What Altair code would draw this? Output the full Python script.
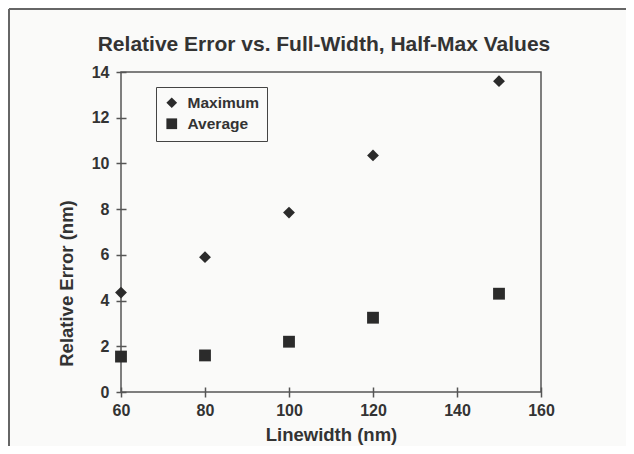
import altair as alt
import pandas as pd

# ---- data ----
linewidth = [60, 80, 100, 120, 150]
maximum = [4.35, 5.9, 7.85, 10.35, 13.6]
average = [1.55, 1.6, 2.2, 3.25, 4.3]
series = ["Maximum", "Average"]
x_ticks = [60, 80, 100, 120, 140, 160]
y_ticks = [0, 2, 4, 6, 8, 10, 12, 14]

df = pd.DataFrame({
    "Linewidth": linewidth + linewidth,
    "Error": maximum + average,
    "Series": [series[0]] * len(linewidth) + [series[1]] * len(linewidth),
})

FONT = "Liberation Sans"
INK = "#2b2b2b"
LINE = "#555555"

points = alt.Chart(df).mark_point(filled=True, opacity=1, color=INK, size=140).encode(
    x=alt.X(
        "Linewidth:Q",
        scale=alt.Scale(domain=[60, 160], nice=False, zero=False),
        axis=alt.Axis(values=x_ticks, title="Linewidth (nm)", labelPadding=5,
                      titlePadding=7, labelFlush=False),
    ),
    y=alt.Y(
        "Error:Q",
        scale=alt.Scale(domain=[0, 14], nice=False),
        axis=alt.Axis(values=y_ticks, title="Relative Error (nm)", labelPadding=7,
                      titlePadding=15, titleY=211, labelFlush=False),
    ),
    shape=alt.Shape(
        "Series:N",
        scale=alt.Scale(domain=series, range=["diamond", "square"]),
        legend=alt.Legend(
            title=None, orient="none", legendX=35, legendY=15,
            strokeColor="#444444", padding=8, symbolSize=115,
            symbolFillColor=INK, symbolStrokeColor=INK, symbolStrokeWidth=0,
            labelFont=FONT, labelFontSize=15.5, labelFontWeight="bold",
            labelColor="#333333", labelOffset=8, rowPadding=4,
        ),
    ),
)

frame_src = pd.DataFrame({"k": [0]})
frame_top = alt.Chart(frame_src).mark_rule(color="#666666", strokeWidth=2).encode(
    x=alt.value(-112), x2=alt.value(505), y=alt.value(-63)
)
frame_left = alt.Chart(frame_src).mark_rule(color="#666666", strokeWidth=2).encode(
    x=alt.value(-112), y=alt.value(-63), y2=alt.value(374)
)

chart = alt.layer(frame_top, frame_left, points).properties(
    width=420,
    height=320,
    autosize="none",
    padding={"left": 113, "top": 64, "right": 85, "bottom": 54},
    background="#fafaf9",
    title=alt.TitleParams(
        "Relative Error vs. Full-Width, Half-Max Values",
        font=FONT, fontSize=21, fontWeight="bold", color="#333333",
        anchor="middle", dx=-7, offset=-47, frame="group",
    ),
).configure_view(
    stroke=LINE, strokeWidth=1.5, fill="#fafaf9"
).configure_axis(
    domain=False, grid=False, tickSize=10, offset=-5, tickColor=LINE, tickWidth=1.5,
    labelFont=FONT, labelFontSize=16, labelFontWeight="bold", labelColor="#333333",
    titleFont=FONT, titleFontSize=18.5, titleFontWeight="bold", titleColor="#333333",
)

chart.save("out.html", embed_options={"renderer": "svg", "actions": False})
